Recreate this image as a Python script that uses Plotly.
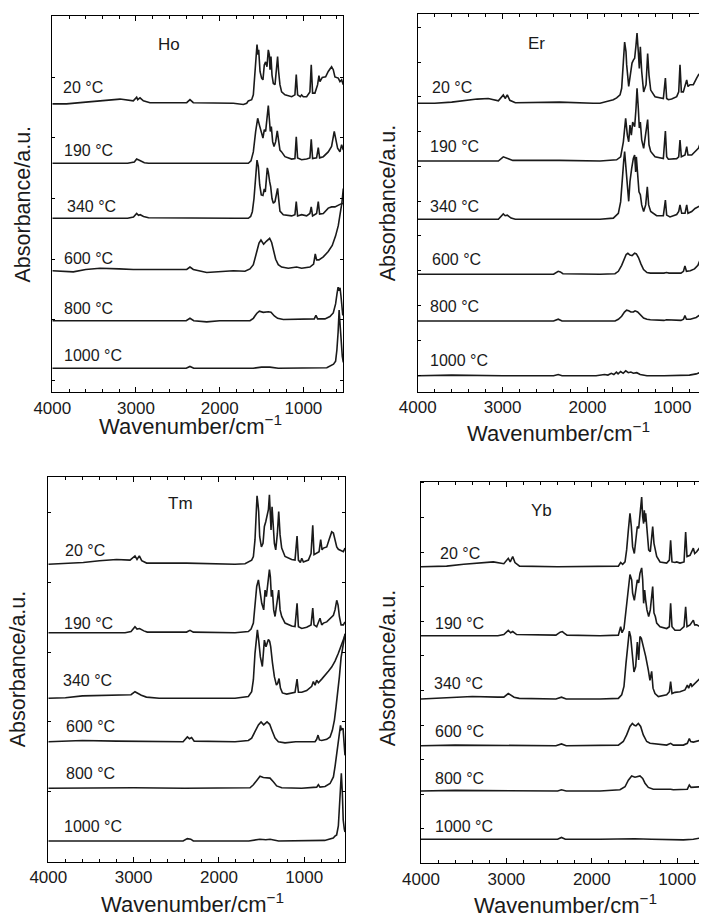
import plotly.graph_objects as go

# ---------------- data: (wavenumber cm-1, absorbance a.u. above each trace's own baseline) -------------
TEMPS = ["20 °C", "190 °C", "340 °C", "600 °C", "800 °C", "1000 °C"]
PANELS = ["Ho", "Er", "Tm", "Yb"]
X_TICKS = [4000, 3000, 2000, 1000]

HO_20C = [(4000,-0.01),(3830,-0.01),(3600,0.02),(3430,0.04),(3191,0.07),(3032,0.04),(2992,0.10),(2980,0.06),(2952,0.09),(2912,0.04),(2833,0.01),(2394,0.01),(2355,0.06),(2315,0.01),(1837,0.0),(1717,-0.02),(1677,0.0),(1658,0.04),(1618,0.06),(1598,0.14),(1586,0.36),(1570,0.58),(1554,0.98),(1542,0.81),(1534,0.89),(1518,0.53),(1499,0.42),(1483,0.39),(1467,0.64),(1451,0.69),(1435,0.61),(1419,0.89),(1407,0.81),(1399,0.56),(1387,0.78),(1375,0.47),(1359,0.33),(1339,0.31),(1323,0.61),(1308,0.78),(1296,0.53),(1280,0.31),(1260,0.19),(1220,0.14),(1140,0.11),(1101,0.14),(1085,0.48),(1069,0.14),(1037,0.11),(1021,0.14),(1001,0.11),(961,0.11),(922,0.19),(906,0.64),(890,0.17),(862,0.17),(830,0.31),(814,0.46),(802,0.36),(774,0.43),(734,0.44),(703,0.53),(663,0.61),(643,0.56),(623,0.44),(583,0.42),(563,0.36),(543,0.39),(523,0.31)]
HO_190C = [(4000,0),(3100,0),(3020,0.02),(2992,0.07),(2960,0.05),(2940,0.04),(2900,0.01),(2850,0),(1817,0),(1658,0),(1626,0.04),(1598,0.19),(1570,0.53),(1546,0.75),(1526,0.64),(1499,0.47),(1483,0.42),(1467,0.56),(1451,0.53),(1419,0.96),(1403,0.72),(1395,0.53),(1383,0.61),(1367,0.36),(1351,0.28),(1331,0.36),(1312,0.54),(1296,0.36),(1280,0.22),(1260,0.19),(1220,0.11),(1140,0.07),(1101,0.08),(1085,0.44),(1069,0.09),(1021,0.06),(961,0.07),(922,0.09),(906,0.40),(890,0.08),(842,0.09),(822,0.26),(806,0.09),(762,0.11),(703,0.19),(663,0.28),(631,0.53),(615,0.42),(591,0.25),(563,0.19),(543,0.31),(523,0.22)]
HO_340C = [(4000,0),(3100,0),(3030,0.02),(2992,0.08),(2970,0.05),(2950,0.06),(2910,0.03),(2850,0.01),(1817,0),(1658,0),(1630,0.03),(1610,0.11),(1590,0.33),(1570,0.78),(1554,0.97),(1538,0.86),(1522,0.56),(1503,0.39),(1483,0.38),(1467,0.49),(1455,0.44),(1431,0.84),(1419,0.77),(1403,0.61),(1391,0.53),(1375,0.33),(1359,0.25),(1339,0.28),(1319,0.42),(1308,0.50),(1296,0.33),(1280,0.12),(1240,0.06),(1140,0.04),(1101,0.06),(1085,0.28),(1069,0.04),(1021,0.06),(961,0.04),(922,0.08),(906,0.19),(890,0.04),(842,0.08),(822,0.28),(806,0.07),(762,0.08),(703,0.17),(663,0.19),(623,0.19),(583,0.22),(551,0.24),(523,0.25)]
HO_600C = [(4000,0),(3749,-0.02),(3600,0.02),(3430,0.04),(3200,0.03),(3032,0.02),(2394,0.02),(2355,0.06),(2315,0.02),(2155,-0.03),(1837,0),(1698,-0.01),(1638,0.03),(1598,0.10),(1558,0.31),(1530,0.46),(1507,0.51),(1475,0.44),(1443,0.49),(1403,0.54),(1379,0.47),(1355,0.33),(1331,0.19),(1300,0.10),(1260,0.06),(1180,0.04),(1081,0.06),(1021,0.04),(922,0.06),(878,0.11),(858,0.28),(842,0.18),(814,0.18),(762,0.23),(703,0.32),(655,0.42),(615,0.58),(583,0.75),(559,0.94),(539,1.14),(523,1.37)]
HO_800C = [(4000,0),(2400,0),(2355,0.04),(2310,0),(2155,-0.02),(2000,0),(1817,0),(1638,0),(1598,0.04),(1558,0.12),(1526,0.16),(1479,0.14),(1419,0.15),(1387,0.14),(1347,0.08),(1308,0.04),(1240,0.02),(1021,0.02),(870,0.03),(850,0.09),(830,0.03),(742,0.03),(683,0.07),(643,0.13),(615,0.28),(598,0.45),(585,0.56),(575,0.50),(562,0.55),(550,0.40),(540,0.20),(530,0.10),(523,0.10)]
HO_1000C = [(4000,0),(2400,0),(2355,0.03),(2310,0),(1600,0),(1500,0.02),(1400,0.02),(1300,0),(720,0.01),(680,0.04),(640,0.07),(615,0.12),(600,0.30),(585,0.60),(573,0.97),(560,0.70),(548,0.40),(535,0.20),(523,0.10)]

ER_20C = [(4000,0),(3800,0),(3600,0.02),(3500,0.04),(3300,0.07),(3170,0.08),(3050,0.04),(2992,0.14),(2970,0.08),(2945,0.14),(2915,0.05),(2850,0.01),(2330,0.02),(1934,0),(1853,0),(1696,0.06),(1657,0.09),(1617,0.14),(1598,0.25),(1578,0.69),(1563,1.02),(1547,0.86),(1539,0.64),(1515,0.28),(1492,0.47),(1476,0.67),(1460,0.72),(1445,0.75),(1429,0.97),(1417,1.17),(1402,0.86),(1390,0.58),(1378,0.94),(1362,0.53),(1339,0.19),(1311,0.31),(1292,0.83),(1276,0.47),(1256,0.22),(1205,0.11),(1107,0.08),(1083,0.42),(1068,0.08),(1048,0.06),(1009,0.07),(950,0.11),(926,0.19),(911,0.64),(895,0.19),(872,0.19),(832,0.39),(817,0.28),(793,0.31),(754,0.31),(715,0.42),(691,0.48),(675,0.47),(648,0.36),(628,0.31),(605,0.28),(593,0.28)]
ER_190C = [(4000,0),(3050,0),(2992,0.07),(2960,0.05),(2930,0.03),(2880,0.01),(2330,0.01),(1853,0),(1657,0.02),(1610,0.07),(1578,0.32),(1551,0.71),(1531,0.43),(1515,0.32),(1500,0.60),(1484,0.43),(1468,0.65),(1445,0.57),(1429,0.88),(1417,1.21),(1402,0.88),(1390,0.55),(1378,0.65),(1362,0.35),(1339,0.21),(1315,0.43),(1292,0.69),(1276,0.27),(1256,0.16),(1205,0.07),(1107,0.04),(1083,0.50),(1068,0.07),(1048,0.03),(950,0.04),(926,0.07),(911,0.35),(895,0.07),(852,0.10),(832,0.24),(817,0.10),(773,0.10),(734,0.16),(695,0.21),(675,0.29),(656,0.38),(636,0.27),(612,0.21),(593,0.18)]
ER_340C = [(4000,0),(3050,0),(2992,0.09),(2970,0.06),(2945,0.07),(2900,0.02),(2850,0),(1853,0),(1696,0.02),(1637,0.10),(1610,0.29),(1590,0.74),(1574,0.97),(1563,1.13),(1547,0.91),(1531,0.57),(1515,0.30),(1500,0.63),(1480,0.85),(1460,1.02),(1445,1.07),(1433,0.79),(1425,1.04),(1409,0.71),(1394,0.46),(1378,0.41),(1362,0.24),(1339,0.13),(1315,0.24),(1296,0.54),(1280,0.24),(1256,0.13),(1186,0.06),(1107,0.06),(1083,0.32),(1068,0.07),(1029,0.04),(950,0.08),(926,0.13),(911,0.24),(891,0.10),(852,0.10),(832,0.24),(817,0.10),(773,0.13),(734,0.18),(695,0.21),(656,0.24),(636,0.21),(593,0.18)]
ER_600C = [(4000,0),(3700,0),(2400,0),(2345,0.05),(2320,0.04),(2290,0.01),(1853,0),(1676,0.01),(1637,0.05),(1598,0.15),(1570,0.25),(1545,0.33),(1525,0.35),(1500,0.32),(1475,0.31),(1445,0.35),(1425,0.34),(1400,0.28),(1370,0.17),(1340,0.08),(1300,0.03),(1260,0.02),(1100,0.02),(1070,0.03),(1040,0.02),(900,0.02),(870,0.05),(853,0.14),(835,0.05),(790,0.06),(740,0.09),(700,0.15),(680,0.22),(660,0.30),(640,0.42),(620,0.60),(605,0.75),(593,0.90)]
ER_800C = [(4000,0),(2400,0),(2345,0.03),(2300,0),(1853,0),(1676,0),(1637,0.03),(1598,0.08),(1565,0.15),(1540,0.18),(1515,0.17),(1490,0.15),(1460,0.15),(1440,0.17),(1410,0.15),(1380,0.10),(1340,0.05),(1300,0.03),(1260,0.02),(1100,0.01),(1070,0.02),(900,0.01),(870,0.03),(853,0.09),(835,0.03),(790,0.03),(720,0.06),(680,0.10),(640,0.17),(620,0.25),(605,0.40),(597,0.60),(593,0.75)]
ER_1000C = [(4000,0),(3600,0.01),(3000,0),(2400,0),(2345,0.02),(2300,0),(1900,0),(1800,0.02),(1760,0.01),(1720,0.04),(1690,0.02),(1660,0.06),(1640,0.03),(1610,0.07),(1580,0.04),(1550,0.08),(1520,0.05),(1490,0.06),(1460,0.04),(1420,0.05),(1380,0.02),(1300,0),(1100,0),(800,0.01),(720,0.03),(660,0.06),(630,0.10),(610,0.20),(600,0.35),(593,0.55)]

TM_20C = [(4000,0),(3800,0.01),(3590,0.03),(3400,0.06),(3200,0.08),(3042,0.07),(2984,0.14),(2960,0.08),(2933,0.14),(2905,0.06),(2847,0.02),(2380,0.02),(1811,0),(1694,0.01),(1655,0.04),(1616,0.07),(1596,0.13),(1577,0.41),(1561,0.91),(1553,1.14),(1541,0.99),(1534,0.88),(1522,0.46),(1502,0.29),(1483,0.35),(1467,0.63),(1451,0.71),(1436,0.79),(1420,0.91),(1408,1.16),(1397,0.85),(1389,0.57),(1377,0.96),(1366,0.63),(1350,0.35),(1334,0.24),(1315,0.51),(1299,0.88),(1283,0.49),(1264,0.27),(1225,0.13),(1147,0.08),(1108,0.07),(1084,0.47),(1068,0.07),(1045,0.03),(1029,0.10),(1010,0.04),(951,0.07),(920,0.18),(900,0.65),(885,0.16),(854,0.18),(826,0.21),(807,0.41),(791,0.24),(775,0.27),(736,0.29),(709,0.41),(678,0.54),(658,0.52),(639,0.41),(619,0.29),(600,0.25),(568,0.23),(541,0.21),(522,0.27)]
TM_190C = [(4000,0),(3100,0),(3030,0.02),(2984,0.10),(2960,0.06),(2930,0.07),(2880,0.03),(2840,0.01),(2380,0.01),(2339,0.04),(2300,0.01),(1811,0),(1655,0.02),(1623,0.06),(1596,0.16),(1577,0.49),(1557,0.77),(1537,0.88),(1522,0.71),(1498,0.49),(1475,0.38),(1459,0.71),(1444,0.60),(1420,0.99),(1408,1.05),(1397,0.93),(1385,0.60),(1373,0.71),(1358,0.38),(1342,0.27),(1319,0.49),(1299,0.71),(1283,0.38),(1264,0.27),(1225,0.16),(1147,0.11),(1108,0.10),(1084,0.49),(1068,0.10),(1029,0.07),(971,0.09),(920,0.13),(900,0.41),(885,0.13),(854,0.10),(815,0.24),(795,0.13),(775,0.16),(736,0.18),(697,0.24),(658,0.29),(639,0.38),(619,0.54),(603,0.46),(588,0.27),(568,0.13),(541,0.13),(522,0.18)]
TM_340C = [(4000,0),(3800,0.01),(3600,0.04),(3400,0.05),(3150,0.05),(3030,0.06),(2984,0.11),(2950,0.08),(2910,0.05),(2850,0.02),(2700,0),(1811,0),(1655,0.03),(1616,0.11),(1596,0.31),(1577,0.75),(1561,1.03),(1549,1.14),(1534,0.97),(1514,0.69),(1491,0.53),(1467,0.97),(1448,0.86),(1420,0.98),(1405,0.95),(1393,0.86),(1373,0.60),(1350,0.36),(1326,0.22),(1311,0.25),(1295,0.33),(1279,0.17),(1256,0.09),(1205,0.07),(1108,0.10),(1084,0.32),(1068,0.10),(1029,0.10),(971,0.13),(912,0.20),(893,0.28),(873,0.22),(854,0.30),(834,0.26),(795,0.32),(756,0.38),(717,0.45),(678,0.52),(639,0.62),(600,0.75),(560,0.90),(522,1.05)]
TM_600C = [(4000,0),(3600,0.02),(3200,0.01),(2420,0),(2370,0.08),(2345,0.05),(2320,0.07),(2290,0.01),(1811,0),(1655,0.02),(1616,0.06),(1577,0.17),(1537,0.28),(1506,0.33),(1475,0.28),(1436,0.33),(1405,0.29),(1373,0.17),(1342,0.06),(1303,0),(1225,-0.02),(1100,0),(873,0),(854,0.04),(838,0.11),(822,0.03),(795,0.02),(736,0.04),(697,0.08),(670,0.19),(646,0.36),(627,0.58),(607,0.80),(588,1.08),(568,1.40),(541,1.65),(522,1.80)]
TM_800C = [(4000,0),(3400,0.01),(3000,0.01),(2400,0),(1811,0),(1635,0.01),(1596,0.06),(1557,0.14),(1518,0.20),(1479,0.18),(1440,0.18),(1401,0.17),(1362,0.11),(1323,0.04),(1264,0.01),(1030,0),(854,0.02),(834,0.06),(815,0.02),(756,0.03),(697,0.08),(658,0.19),(639,0.36),(619,0.58),(600,0.85),(585,1.00),(575,1.05),(565,0.98),(545,1.00),(530,0.70),(522,0.55)]
TM_1000C = [(4000,0),(2420,0),(2370,0.04),(2330,0.03),(2300,0),(1650,0),(1520,0.03),(1450,0.02),(1400,0.03),(1300,0),(760,0.01),(700,0.03),(660,0.05),(640,0.08),(620,0.10),(600,0.25),(588,0.50),(576,0.90),(565,1.13),(553,0.80),(543,0.35),(530,0.20),(522,0.15)]

YB_20C = [(4000,0),(3700,0.01),(3500,0.04),(3348,0.06),(3153,0.08),(3030,0.05),(2978,0.14),(2955,0.08),(2926,0.17),(2900,0.07),(2846,0.01),(2400,0),(1904,0),(1689,0.01),(1662,0.07),(1639,0.04),(1611,0.08),(1592,0.28),(1572,0.61),(1553,0.89),(1537,0.67),(1522,0.33),(1502,0.22),(1483,0.47),(1467,0.67),(1451,0.64),(1436,0.89),(1416,1.16),(1404,0.83),(1393,0.72),(1385,0.94),(1377,0.75),(1369,0.89),(1354,0.56),(1334,0.28),(1315,0.25),(1299,0.44),(1287,0.67),(1272,0.39),(1240,0.17),(1201,0.08),(1123,0.06),(1092,0.11),(1077,0.44),(1061,0.08),(1026,0.07),(1006,0.08),(967,0.06),(920,0.08),(901,0.58),(885,0.17),(850,0.19),(811,0.31),(795,0.22),(772,0.25),(733,0.33),(694,0.39),(663,0.47),(651,0.48)]
YB_190C = [(4000,0),(3100,0),(3030,0.02),(2978,0.09),(2950,0.05),(2926,0.07),(2880,0.02),(2420,0.01),(2370,0.06),(2345,0.07),(2320,0.04),(2290,0.01),(1904,0),(1689,0.01),(1662,0.15),(1646,0.05),(1623,0.12),(1600,0.43),(1576,0.76),(1553,1.02),(1533,0.93),(1522,0.71),(1502,0.59),(1483,0.82),(1467,0.93),(1451,0.88),(1436,1.04),(1416,1.13),(1404,0.93),(1393,0.54),(1381,0.76),(1369,0.59),(1354,0.43),(1334,0.32),(1315,0.43),(1287,0.82),(1272,0.38),(1256,0.32),(1240,0.21),(1201,0.15),(1123,0.12),(1092,0.15),(1077,0.54),(1061,0.15),(1026,0.09),(967,0.09),(920,0.15),(901,0.48),(885,0.15),(850,0.18),(811,0.26),(795,0.18),(772,0.18),(733,0.15),(694,0.21),(663,0.23),(651,0.24)]
YB_340C = [(4000,0),(3700,0.02),(3400,0.04),(3100,0.03),(3030,0.03),(2978,0.09),(2950,0.06),(2910,0.03),(2850,0.01),(2420,0),(2355,0.03),(2300,0),(1904,0),(1689,0.01),(1650,0.07),(1623,0.21),(1600,0.59),(1576,0.98),(1561,1.13),(1545,1.04),(1525,0.71),(1506,0.45),(1486,0.54),(1467,0.95),(1451,0.65),(1436,1.04),(1420,1.01),(1404,0.93),(1385,0.82),(1369,0.71),(1338,0.48),(1319,0.31),(1299,0.46),(1283,0.18),(1260,0.09),(1221,0.04),(1123,0.07),(1092,0.12),(1077,0.29),(1061,0.09),(1026,0.11),(967,0.12),(909,0.15),(881,0.23),(866,0.18),(842,0.26),(827,0.21),(792,0.26),(753,0.32),(714,0.37),(675,0.46),(651,0.51)]
YB_600C = [(4000,0),(3600,0.01),(2420,0),(2355,0.03),(2300,0),(1904,0),(1689,0.01),(1631,0.07),(1592,0.18),(1553,0.32),(1525,0.37),(1502,0.34),(1483,0.33),(1455,0.37),(1428,0.32),(1397,0.18),(1357,0.07),(1318,0.04),(1221,0.02),(1123,0.01),(1077,0.04),(1045,0.01),(928,0.01),(881,0.04),(858,0.12),(842,0.07),(811,0.06),(772,0.07),(733,0.09),(694,0.15),(663,0.24),(651,0.30)]
YB_800C = [(4000,0),(3600,0.01),(2400,0),(2355,0.02),(2300,0),(1904,0),(1670,0.02),(1611,0.07),(1572,0.18),(1533,0.25),(1494,0.23),(1467,0.24),(1436,0.25),(1404,0.21),(1377,0.13),(1338,0.06),(1280,0.03),(1077,0.03),(1045,0.02),(881,0.03),(858,0.10),(838,0.06),(792,0.06),(733,0.07),(694,0.10),(663,0.14),(651,0.18)]
YB_1000C = [(4000,0),(3000,0),(2400,0),(2355,0.03),(2310,0),(1904,0),(1500,0.01),(1300,0),(928,-0.01),(811,0),(733,0.02),(694,0.05),(663,0.09),(651,0.13)]

SPECTRA = {
    "Ho": [HO_20C, HO_190C, HO_340C, HO_600C, HO_800C, HO_1000C],
    "Er": [ER_20C, ER_190C, ER_340C, ER_600C, ER_800C, ER_1000C],
    "Tm": [TM_20C, TM_190C, TM_340C, TM_600C, TM_800C, TM_1000C],
    "Yb": [YB_20C, YB_190C, YB_340C, YB_600C, YB_800C, YB_1000C],
}

# ---------------- layout / styling (positions in pixels of the 707x915 page) ----------------
PAGE_W, PAGE_H = 707, 915
BODY = 8                      # default page margin around the plot div
W, H = PAGE_W - BODY, PAGE_H - BODY
FONT = "Liberation Sans, Arial, Helvetica, sans-serif"
INK = "#1a1a1a"

# stacking offsets of each trace (y units: 1 unit = 60 px)
OFFSETS = {
    "Ho": [4.817, 3.817, 2.90, 2.027, 1.193, 0.40],
    "Er": [4.812, 3.85, 2.878, 1.962, 1.183, 0.272],
    "Tm": [4.957, 3.817, 2.723, 2.0, 1.223, 0.345],
    "Yb": [4.943, 3.793, 2.739, 1.96, 1.205, 0.40],
}
# plot boxes in page px: left, right, top, bottom ; x range end ; y tick0/dtick ; right mirror
BOX = {
    "Ho": dict(l=52.3, r=343.3, t=15.7, b=392.3, xend=523, t0=0.2, dt=1.01, mir=True),
    "Er": dict(l=417.7, r=707, t=14.3, b=392.0, xend=593, t0=0.283, dt=0.5795, mir=False),
    "Tm": dict(l=48.3, r=345.0, t=476.7, b=861.7, xend=522, t0=0.0, dt=1.1647, mir=True),
    "Yb": dict(l=421.0, r=707, t=481.7, b=863.3, xend=651, t0=0.572, dt=0.5767, mir=False),
}
LABEL_POS = {  # left edge x, centre y of temperature labels
    "Ho": [(61, 88), (61.7, 150), (65, 206.7), (61.7, 258), (62.3, 308), (62.3, 355)],
    "Er": [(430, 88), (428.3, 146.7), (428.3, 206.7), (430, 260), (428.3, 306.7), (428.3, 360)],
    "Tm": [(63.3, 550), (61.7, 623.3), (61, 680), (64.3, 726.7), (64.3, 773.3), (61.7, 826.7)],
    "Yb": [(438.3, 553.3), (432.7, 623.3), (431.7, 683.3), (432.7, 731.7), (432.7, 778.3), (432.7, 826.7)],
}
NAME_POS = {"Ho": (168.7, 44.7), "Er": (536, 43.3), "Tm": (180, 503.3), "Yb": (541.7, 510)}
YTITLE_POS = {"Ho": (22.5, 204), "Er": (388.3, 203), "Tm": (18.3, 669), "Yb": (388.3, 668)}
XTITLE_POS = {"Ho": (190, 425), "Er": (558, 432), "Tm": (192, 903), "Yb": (565, 904)}


def px(x):
    return min(1.0, max(0.0, (x - BODY) / W))


def py(y):
    return min(1.0, max(0.0, 1 - (y - BODY) / H))


fig = go.Figure()
annotations = []
layout = dict(width=W, height=H, margin=dict(l=0, r=0, t=0, b=0, pad=0, autoexpand=False),
              paper_bgcolor="white", plot_bgcolor="white", showlegend=False,
              font=dict(family=FONT, color=INK))

for i, name in enumerate(PANELS):
    k = "" if i == 0 else str(i + 1)
    bx = BOX[name]
    for j, spec in enumerate(SPECTRA[name]):
        wn = [p[0] for p in spec]
        ab = [p[1] + OFFSETS[name][j] for p in spec]
        fig.add_trace(go.Scatter(x=wn, y=ab, mode="lines", xaxis="x" + k, yaxis="y" + k,
                                 line=dict(color=INK, width=1.6), hoverinfo="skip"))
    ytop = (bx["b"] - bx["t"]) / 60.0
    layout["xaxis" + k] = dict(
        domain=[px(bx["l"]), px(bx["r"])], anchor="y" + k, automargin=False,
        range=[4000, bx["xend"]], tickmode="array", tickvals=X_TICKS,
        ticktext=[str(v) for v in X_TICKS],
        ticks="inside", ticklen=5, tickwidth=1, tickcolor="black",
        minor=dict(tickmode="linear", tick0=0, dtick=200, ticks="inside", ticklen=3,
                   tickwidth=1, tickcolor="black"),
        showline=True, linecolor="black", linewidth=1, mirror="ticks",
        showgrid=False, zeroline=False, fixedrange=True,
        tickfont=dict(family=FONT, size=17, color=INK))
    layout["yaxis" + k] = dict(
        domain=[py(bx["b"]), py(bx["t"])], anchor="x" + k, automargin=False, range=[0, ytop],
        tickmode="linear", tick0=bx["t0"], dtick=bx["dt"], showticklabels=False,
        ticks="inside", ticklen=3, tickwidth=1, tickcolor="black",
        showline=True, linecolor="black", linewidth=1,
        mirror="ticks" if bx["mir"] else False,
        showgrid=False, zeroline=False, fixedrange=True)
    for j, t in enumerate(TEMPS):
        lx, ly = LABEL_POS[name][j]
        annotations.append(dict(x=px(lx), y=py(ly), xref="paper", yref="paper", text=t,
                                showarrow=False, xanchor="left", yanchor="middle",
                                font=dict(size=16, family=FONT, color=INK)))
    nx, ny = NAME_POS[name]
    annotations.append(dict(x=px(nx), y=py(ny), xref="paper", yref="paper", text=name,
                            showarrow=False, xanchor="center", yanchor="middle",
                            font=dict(size=17, family=FONT, color=INK)))
    tx, ty = YTITLE_POS[name]
    annotations.append(dict(x=px(tx), y=py(ty), xref="paper", yref="paper",
                            text="Absorbance/a.u.", textangle=-90, showarrow=False,
                            xanchor="center", yanchor="middle",
                            font=dict(size=21.5, family=FONT, color=INK)))
    tx, ty = XTITLE_POS[name]
    annotations.append(dict(x=px(tx), y=py(ty), xref="paper", yref="paper",
                            text="Wavenumber/cm<sup>−1</sup>", showarrow=False,
                            xanchor="center", yanchor="middle",
                            font=dict(size=22, family=FONT, color=INK)))

layout["annotations"] = annotations
fig.update_layout(**layout)
fig.write_html("out.html")
